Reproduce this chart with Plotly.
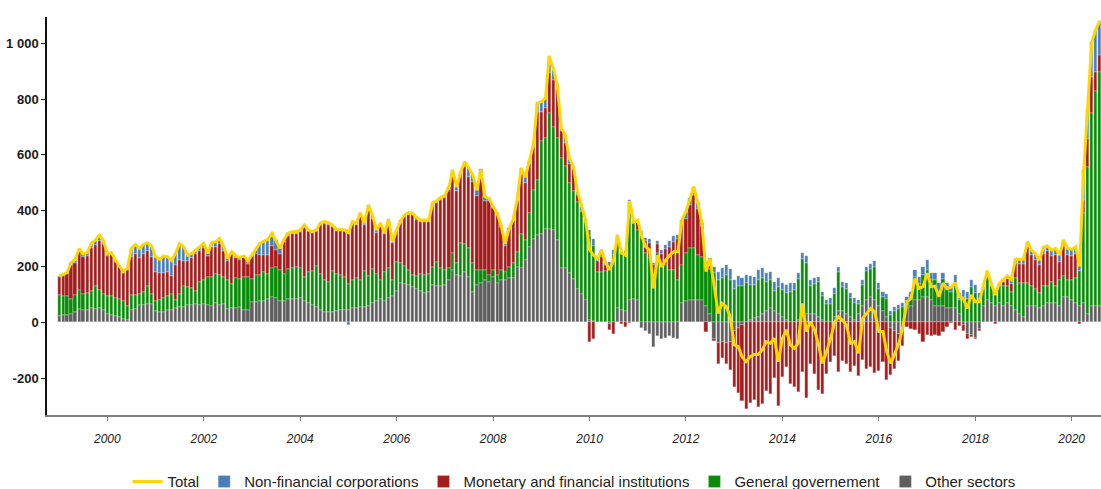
import pandas as pd
import plotly.graph_objects as go

# Monthly data, Jan 1999 - Aug 2020 (one row per year)
other_sectors = [
    22, 25, 25, 31, 37, 49, 43, 43, 52, 49, 52, 43,
    31, 25, 22, 19, 13, 7, 43, 49, 61, 61, 64, 66,
    40, 37, 37, 43, 43, 50, 55, 55, 61, 61, 64, 61,
    66, 61, 58, 70, 61, 66, 49, 52, 52, 55, 46, 46,
    72, 72, 78, 78, 84, 90, 86, 78, 78, 82, 82, 84,
    86, 78, 70, 61, 55, 46, 36, 36, 36, 39, 43, 43,
    46, 52, 52, 55, 55, 60, 70, 78, 82, 78, 86, 93,
    113, 140, 137, 134, 128, 118, 113, 106, 110, 134, 130, 130,
    134, 152, 188, 170, 166, 181, 164, 110, 134, 142, 152, 145,
    161, 140, 152, 152, 158, 158, 199, 193, 223, 271, 297, 312,
    318, 336, 336, 332, 295, 195, 193, 178, 154, 120, 100, 80,
    10, 5, 0, 0, 0, -5, 0, 50, 45, 40, 80, 85,
    80, -20, -30, -40, -90, -50, -60, -55, -50, -55, -60, 70,
    75, 80, 80, 80, 80, 60, 30, -60, -75, -70, -75, -70,
    -30, -20, -10, 0, 10, 15, 20, 30, 40, 50, 40, 30,
    20, 10, 0, 0, 10, 30, 30, 30, 30, 20, 10, 0,
    0, 20, 40, 40, 30, 20, 10, 30, 60, 80, 90, 80,
    60, 40, 20, -20, -30, -40, -30, 50, 60, 80, 80, 90,
    90, 80, 60, 60, 60, 50, 50, 50, 30, -10, -40, -45,
    -55, -25, 60, 80, 70, 60, 70, 60, 70, 60, 44, 30,
    20, 60, 60, 60, 50, 60, 70, 70, 70, 60, 90, 90,
    80, 70, 60, 70, 30, 60, 60, 60,
]

general_government = [
    76, 70, 68, 54, 61, 68, 60, 62, 62, 80, 65, 60,
    62, 68, 65, 64, 62, 52, 55, 49, 42, 48, 65, 37,
    35, 44, 50, 50, 60, 31, 48, 74, 66, 63, 50, 83,
    84, 101, 106, 104, 107, 96, 104, 87, 108, 101, 116, 116,
    84, 96, 90, 101, 90, 105, 111, 110, 94, 110, 113, 116,
    109, 84, 109, 124, 148, 128, 115, 109, 149, 135, 125, 119,
    90, 101, 108, 96, 130, 105, 122, 96, 69, 101, 109, 58,
    104, 73, 64, 53, 42, 48, 62, 64, 65, 65, 87, 63,
    53, 41, 59, 41, 117, 100, 101, 103, 53, 47, 35, 25,
    28, 30, 35, 29, 41, 53, 54, 125, 71, 119, 176, 197,
    332, 324, 414, 368, 365, 395, 367, 322, 316, 310, 295, 280,
    300, 270, 180, 180, 185, 200, 240, 240, 200, 205, 352, 270,
    251, 301, 250, 230, 170, 247, 199, 205, 187, 187, 152, 135,
    172, 185, 188, 161, 155, 140, 160, 176, 150, 160, 170, 150,
    120, 130, 130, 140, 125, 118, 132, 128, 106, 101, 73, 98,
    95, 94, 110, 115, 146, 197, 183, 102, 108, 123, 85, 65,
    66, 82, 139, 85, 90, 69, 61, 35, 75, 105, 100, 120,
    60, 50, 65, 25, 40, 47, 55, 27, 30, 82, 58, 79,
    98, 71, 91, 50, 96, 65, 58, 90, 49, 91, 85, 127,
    104, 84, 55, 80, 60, 40, 60, 70, 60, 50, 114, 110,
    120, 80, 70, 60, 55, 70, 60, 75, 60, 90, 75, 60,
    70, 90, 125, 320, 528, 690, 768, 838,
]

monetary_financial = [
    65, 72, 80, 119, 116, 139, 130, 133, 154, 147, 175, 176,
    144, 147, 129, 114, 102, 127, 137, 146, 127, 135, 126, 130,
    105, 97, 91, 88, 62, 125, 119, 92, 94, 108, 130, 112,
    118, 75, 106, 95, 113, 94, 66, 106, 70, 69, 71, 48,
    80, 77, 75, 62, 68, 79, 62, 57, 115, 119, 122, 117,
    128, 182, 147, 135, 123, 176, 202, 202, 156, 154, 160, 164,
    195, 203, 190, 234, 165, 245, 178, 145, 196, 137, 169, 133,
    109, 144, 176, 198, 213, 202, 184, 189, 184, 220, 209, 247,
    260, 282, 284, 259, 247, 275, 257, 290, 266, 334, 248, 264,
    221, 216, 154, 92, 133, 151, 181, 224, 206, 177, 153, 246,
    105, 107, 143, 168, 176, 95, 81, 68, 78, 25, 5, 0,
    -70, -60, 38, 55, 20, -22, -40, 13, -7, -15, -2, 0,
    31, 16, 41, 54, 37, 35, 45, 58, 84, 101, 146, 147,
    125, 154, 188, 165, 110, -33, 19, -6, -73, -57, -74, -100,
    -201, -232, -273, -311, -288, -278, -302, -292, -245, -256, -200, -299,
    -197, -161, -221, -233, -251, -179, -271, -150, -185, -244, -257, -185,
    -143, -120, -179, -137, -150, -179, -155, -191, -136, -168, -160, -182,
    -173, -143, -205, -167, -136, -97, -56, -18, -24, -29, -41, -71,
    -47, -48, -46, -48, -36, -18, -3, -28, -12, -20, -20, -9,
    -5, -5, 3, 10, 0, -7, 5, 14, 26, 29, 53, 70,
    70, 130, 110, 105, 100, 114, 124, 94, 110, 66, 105, 90,
    87, 86, -5, 48, 100, 130, 70, 60,
]

non_financial_corps = [
    3, 5, 5, 10, 10, 8, 12, 12, 15, 18, 20, 15,
    10, 10, 8, 5, 5, 8, 30, 35, 35, 35, 30, 40,
    55, 48, 60, 54, 56, 41, 60, 50, 20, 15, 15, 15,
    15, 10, 15, 20, 20, 15, 10, 8, 8, 8, 5, 10,
    5, 20, 40, 50, 55, 45, 35, 20, 10, 8, 8, 8,
    8, 5, 5, 5, 5, 5, 8, 10, 8, 5, 5, 5,
    -10, 5, 5, 8, 5, 10, 15, 12, 8, 5, 5, 5,
    5, 8, 8, 8, 8, 8, 8, 8, 8, 10, 10, 8,
    8, 10, 15, 15, 10, 20, 30, 25, 20, 25, 15, 10,
    5, 5, 8, 8, 5, 5, 5, 10, 20, 15, 10, 30,
    36, 36, 60, 42, 15, 10, 30, 20, 10, 15, 15, 10,
    20, 25, 10, 25, 10, 15, 20, 10, 10, 10, 5, 5,
    5, 10, 10, 15, 5, 9, 15, 15, 20, 20, 15, 15,
    25, 25, 30, 20, 10, 15, 20, 24, 30, 35, 35, 40,
    30, 35, 30, 30, 30, 30, 35, 35, 30, 30, 30, 30,
    25, 30, 30, 25, 20, 20, 25, 20, 20, 20, 15, 15,
    20, 20, 20, 20, 20, 15, 15, 15, 15, 15, 20, 20,
    20, 20, 15, 15, 15, 15, 15, 15, 20, 25, 25, 30,
    35, 25, 25, 30, 20, 25, 20, 30, 25, 25, 25, 25,
    30, 20, 10, 15, 10, 5, 5, 10, 10, 15, 15, 16,
    16, 19, 19, 22, 18, 25, 20, 20, 25, 25, 25, 25,
    25, 25, 20, 108, 102, 125, 150, 122,
]

months = pd.date_range("1999-01-01", periods=len(other_sectors), freq="MS")
for s in (general_government, monetary_financial, non_financial_corps):
    assert len(s) == len(months), len(s)

# Total = aggregate of the four sectors
total = [o + g + m + n for o, g, m, n in zip(other_sectors, general_government,
                                               monetary_financial, non_financial_corps)]

year_ticks = [f"{y}-01-01" for y in range(2000, 2021, 2)]
year_labels = [str(y) for y in range(2000, 2021, 2)]
y_ticks = [-200, 0, 200, 400, 600, 800, 1000]
y_labels = ["-200", "0", "200", "400", "600", "800", "1 000"]

FONT = "Liberation Sans, Arial, sans-serif"
bar_w = 24 * 86400000

fig = go.Figure()
series = [
    ("Other sectors", other_sectors, "#5e5e5e", 5),
    ("General governement", general_government, "#0a8c0a", 4),
    ("Monetary and financial institutions", monetary_financial, "#a51c1c", 3),
    ("Non-financial corporations", non_financial_corps, "#4a7ebb", 2),
]
for name, vals, col, rank in series:
    fig.add_trace(go.Bar(
        x=months, y=vals, name=name, marker_color=col,
        marker_line=dict(width=0.4, color="rgba(255,255,255,0.6)"),
        width=bar_w, legendrank=rank,
    ))

fig.add_trace(go.Scatter(
    x=months, y=total, name="Total", mode="lines",
    line=dict(color="#FFD700", width=3), legendrank=1,
))

fig.update_layout(
    width=1101, height=489,
    margin=dict(l=47, r=0, t=17, b=74, autoexpand=False),
    barmode="relative", bargap=0,
    plot_bgcolor="white", paper_bgcolor="white",
    font=dict(family=FONT, color="#222"),
    showlegend=True,
    legend=dict(orientation="h", x=0.5, xanchor="center", y=-0.168, yanchor="middle",
                font=dict(size=15, color="#222"), traceorder="normal",
                itemwidth=30),
)
fig.update_xaxes(
    type="date", range=["1998-10-01", "2020-08-10"],
    tickvals=year_ticks, ticktext=year_labels,
    tickfont=dict(size=12, style="italic", color="#222"),
    showline=True, linecolor="#7f7f7f", linewidth=2,
    ticks="outside", ticklen=4, tickcolor="#7f7f7f",
    ticklabelstandoff=8,
    showgrid=False, zeroline=False, automargin=False,
)
fig.update_yaxes(
    range=[-332, 1094],
    tickvals=y_ticks, ticktext=y_labels,
    tickfont=dict(size=13, weight="bold", color="#1a1a1a"),
    showline=True, linecolor="#111", linewidth=1.5,
    ticks="outside", ticklen=4, tickcolor="#111",
    showgrid=False, zeroline=False, automargin=False,
)

fig.write_html("out.html", config={"displayModeBar": False},
               post_script="document.body.style.margin='0';")
